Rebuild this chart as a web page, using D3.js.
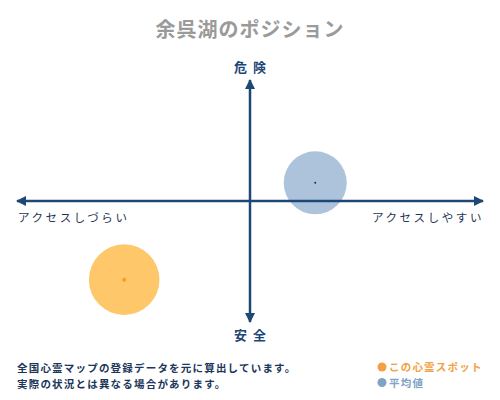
<!DOCTYPE html>
<html>
<head>
<meta charset="utf-8">
<script src="https://cdn.jsdelivr.net/npm/d3@7"></script>
<style>
  body { margin: 0; background: #fff; }
  svg { display: block; font-family: "Noto Sans CJK JP", sans-serif; }
</style>
</head>
<body>
<svg id="chart" width="500" height="400"></svg>
<script>
const title = "余呉湖のポジション";
const yLabels = ["危険", "安全"];
const xLabels = ["アクセスしづらい", "アクセスしやすい"];
const notes = ["全国心霊マップの登録データを元に算出しています。", "実際の状況とは異なる場合があります。"];

const seriesNames = ["この心霊スポット", "平均値"];
const accessValues = [-54, 28];   // x: access (-100 hard .. 100 easy)
const dangerValues = [-65, 15];   // y: danger (-100 safe .. 100 danger)
const sizeValues = [1.12, 1.0];
const colors = ["#fdc76a", "#adc3dc"];
const dotColors = ["#f0a030", "#1e3050"];
const legendColors = ["#f2a042", "#7fa3c6"];

const svg = d3.select("#chart");
const navy = "#1d4774";

const x = d3.scaleLinear().domain([-100, 100]).range([17, 483]);
const y = d3.scaleLinear().domain([-100, 100]).range([322, 80]);
const r = d3.scaleLinear().domain([0, 1]).range([0, 31.5]);

// title
svg.append("text")
   .attr("x", 250).attr("y", 37)
   .attr("text-anchor", "middle")
   .attr("font-size", 20).attr("font-weight", "bold")
   .attr("letter-spacing", 1)
   .attr("fill", "#9a9a9a")
   .text(title);

// arrow head marker
const defs = svg.append("defs");
defs.append("marker")
    .attr("id", "arrow")
    .attr("viewBox", "0 0 10 10")
    .attr("refX", 9).attr("refY", 5)
    .attr("markerWidth", 4).attr("markerHeight", 4)
    .attr("orient", "auto-start-reverse")
    .append("path")
    .attr("d", "M0,0 L10,5 L0,10 Z")
    .attr("fill", navy);

// bubbles (drawn under axes)
const pts = seriesNames.map((name, i) => ({
    name, ax: accessValues[i], dg: dangerValues[i], s: sizeValues[i], i
}));

svg.selectAll(".bubble")
   .data(pts)
   .enter().append("circle")
   .attr("class", "bubble")
   .attr("cx", d => x(d.ax))
   .attr("cy", d => y(d.dg))
   .attr("r", d => r(d.s))
   .attr("fill", d => colors[d.i]);

// axes
svg.append("line")
   .attr("x1", x(-100)).attr("x2", x(100))
   .attr("y1", y(0)).attr("y2", y(0))
   .attr("stroke", navy).attr("stroke-width", 2.5)
   .attr("marker-start", "url(#arrow)")
   .attr("marker-end", "url(#arrow)");

svg.append("line")
   .attr("x1", x(0)).attr("x2", x(0))
   .attr("y1", y(100)).attr("y2", y(-100))
   .attr("stroke", navy).attr("stroke-width", 2.5)
   .attr("marker-start", "url(#arrow)")
   .attr("marker-end", "url(#arrow)");

// center dots
svg.selectAll(".center")
   .data(pts)
   .enter().append("circle")
   .attr("class", "center")
   .attr("cx", d => x(d.ax))
   .attr("cy", d => y(d.dg))
   .attr("r", d => d.i === 0 ? 2 : 1)
   .attr("fill", d => dotColors[d.i]);

// axis labels (letter-spacing adds a trailing gap, so nudge right by half)
svg.selectAll(".ylabel")
   .data(yLabels)
   .enter().append("text")
   .attr("class", "ylabel")
   .attr("x", x(0) + 3)
   .attr("y", (d, i) => i === 0 ? 72 : 340)
   .attr("text-anchor", "middle")
   .attr("font-size", 13).attr("font-weight", "bold")
   .attr("letter-spacing", 6)
   .attr("fill", navy)
   .text(d => d);

svg.append("text")
   .attr("x", 18).attr("y", 222)
   .attr("font-size", 11.5)
   .attr("letter-spacing", 2.6)
   .attr("fill", "#1f3550")
   .text(xLabels[0]);

svg.append("text")
   .attr("x", 484).attr("y", 222)
   .attr("text-anchor", "end")
   .attr("font-size", 11.5)
   .attr("letter-spacing", 2.6)
   .attr("fill", "#1f3550")
   .text(xLabels[1]);

// footnote
svg.selectAll(".note")
   .data(notes)
   .enter().append("text")
   .attr("class", "note")
   .attr("x", 17)
   .attr("y", (d, i) => 372 + i * 15.5)
   .attr("font-size", 10.5).attr("font-weight", "bold")
   .attr("letter-spacing", 1.2)
   .attr("fill", "#1b365a")
   .text(d => d);

// legend
const legend = svg.selectAll(".legend")
   .data(seriesNames)
   .enter().append("g")
   .attr("class", "legend")
   .attr("transform", (d, i) => `translate(382,${367 + i * 15.5})`);

legend.append("circle")
   .attr("r", 4.5)
   .attr("fill", (d, i) => legendColors[i]);

legend.append("text")
   .attr("x", 7).attr("y", 4)
   .attr("font-size", 10.5).attr("font-weight", "bold")
   .attr("letter-spacing", 1.2)
   .attr("fill", (d, i) => legendColors[i])
   .text(d => d);
</script>
</body>
</html>
